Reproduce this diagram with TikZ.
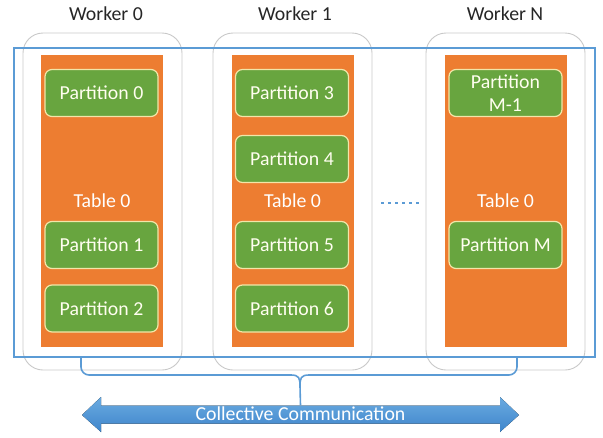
\documentclass[tikz,border=0pt]{standalone}
\usepackage{fontspec}
\setmainfont{Carlito}
\usetikzlibrary{positioning}
\definecolor{tblorange}{HTML}{ED7D31}
\definecolor{partgreen}{HTML}{68A53F}
\definecolor{partedge}{HTML}{F2E6A8}
\definecolor{grpblue}{HTML}{5B9BD5}
\definecolor{arrtop}{HTML}{6AAAE0}
\definecolor{arrbot}{HTML}{3F86CC}
\definecolor{wkgray}{HTML}{C8C8C8}
\begin{document}
\begin{tikzpicture}[x=1pt,y=-1pt,
  font=\fontsize{19.8}{23}\selectfont,
  worker/.style={draw=wkgray,line width=0.9pt,rounded corners=20pt,minimum width=159pt,minimum height=337pt},
  table/.style={fill=tblorange,minimum width=122pt,minimum height=292pt,inner sep=0pt},
  part/.style={fill=partgreen,draw=partedge,line width=1.2pt,rounded corners=7pt,minimum width=113pt,minimum height=47pt,text=white!94!yellow,align=center,inner sep=0pt},
  title/.style={anchor=base,text=black!85},
  tlabel/.style={anchor=base,text=white},
  grp/.style={draw=grpblue,line width=1.8pt},
  brace/.style={draw=grpblue,line width=1.6pt},
]
\useasboundingbox (0,0) rectangle (603,437);
% workers
\node[worker] (w0) at (102.5,201.5) {};
\node[worker] (w1) at (292.5,201.5) {};
\node[worker] (wn) at (505.5,201.5) {};
\node[title] (t0) at (106,20) {Worker 0};
\node[title] (t1) at (295,20) {Worker 1};
\node[title] (tn) at (505,20) {Worker N};
% group rectangle
\node[grp,minimum width=581pt,minimum height=309pt,inner sep=0pt] (group) at (304.5,202.5) {};
% tables
\node[table] (tab0) at (102,201) {};
\node[table] (tab1) at (292.5,201) {};
\node[table] (tabn) at (505.5,201) {};
\node[tlabel] (l0) at (102,207) {Table 0};
\node[tlabel] (l1) at (292.5,207) {Table 0};
\node[tlabel] (ln) at (505.5,207) {Table 0};
% partitions
\node[part] (p0) at (101.5,93) {Partition 0};
\node[part] (p1) at (101.5,245) {Partition 1};
\node[part] (p2) at (101.5,308.5) {Partition 2};
\node[part] (p3) at (292,93) {Partition 3};
\node[part] (p4) at (292,159) {Partition 4};
\node[part] (p5) at (292,245) {Partition 5};
\node[part] (p6) at (292,308.5) {Partition 6};
\node[part] (pm1) at (505.5,93) {Partition\\M-1};
\node[part] (pm) at (505.5,245) {Partition M};
% dots
\coordinate (d1) at (381,203);
\coordinate (d2) at (419,203);
\draw[grpblue,line width=2.8pt,dash pattern=on 2.8pt off 4.2pt] (d1) -- (d2);
% arrow
\fill[top color=arrtop,bottom color=arrbot]
  (82,415) -- (101,397) -- (101,405.5) -- (500,405.5) -- (500,397) -- (519,415)
  -- (500,432) -- (500,423.5) -- (101,423.5) -- (101,432) -- cycle;
\node[inner sep=0pt,minimum width=437pt,minimum height=18pt] (comm) at (300.5,414.5) {};
\node[anchor=base,text=white] (ctext) at (300.5,420) {Collective Communication};
% brace
\coordinate (bl) at (81,357);
\coordinate (br) at (517,357);
\draw[brace,rounded corners=8pt] (bl) -- (81,375) -- (291,375);
\draw[brace,rounded corners=8pt] (br) -- (517,375) -- (309,375);
\draw[brace] (291,375) .. controls (299,375) and (300,378) .. (300,386) -- (comm.north);
\draw[brace] (309,375) .. controls (301,375) and (300,378) .. (300,386);
\end{tikzpicture}
\end{document}
